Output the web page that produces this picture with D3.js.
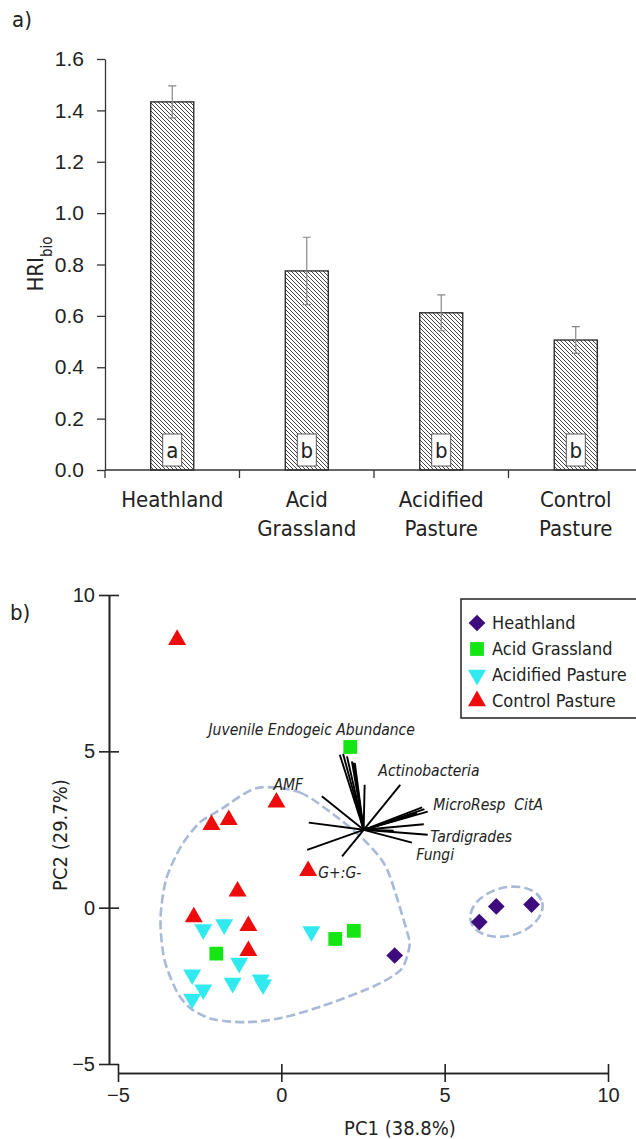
<!DOCTYPE html>
<html>
<head>
<meta charset="utf-8">
<script src="https://cdn.jsdelivr.net/npm/d3@7"></script>
<style>
  body { margin: 0; background: #fff; }
  svg { display: block; font-family: 'DejaVu Sans Condensed', 'DejaVu Sans', sans-serif; font-stretch: condensed; }
  text { fill: #222; }
</style>
</head>
<body>
<div id="chart"></div>
<script>
// ---- panel a) data ----
const categories = ["Heathland", "Acid Grassland", "Acidified Pasture", "Control Pasture"];
const categoryLines = [["Heathland"], ["Acid", "Grassland"], ["Acidified", "Pasture"], ["Control", "Pasture"]];
const hriMean = [1.433, 0.775, 0.612, 0.506];
const hriSE = [0.062, 0.131, 0.070, 0.052];
const groupLetters = ["a", "b", "b", "b"];
const hriTicks = [0, 0.2, 0.4, 0.6, 0.8, 1.0, 1.2, 1.4, 1.6];

// ---- panel b) data (PC1, PC2) ----
const heathland = [[3.47, -1.53], [6.06, -0.46], [6.58, 0.04], [7.66, 0.10]];
const acidGrassland = [[2.11, 5.14], [-1.99, -1.47], [1.65, -1.00], [2.22, -0.74]];
const acidifiedPasture = [[-2.39, -0.70], [-1.75, -0.54], [0.92, -0.76], [-1.29, -1.77], [-2.73, -2.14],
  [-2.39, -2.62], [-2.73, -2.92], [-1.49, -2.41], [-0.63, -2.30], [-0.56, -2.46]];
const controlPasture = [[-3.19, 8.57], [-0.15, 3.37], [-1.61, 2.81], [-2.14, 2.65], [0.82, 1.18],
  [-1.34, 0.52], [-2.68, -0.30], [-1.01, -0.58], [-1.01, -1.38]];
const pcTicks = [-5, 0, 5, 10];

// biplot loading vectors, drawn from a common origin
const loadingOrigin = [2.52, 2.49];
const loadings = [[-0.73, 2.40], [-0.63, 2.43], [-0.51, 2.35], [-0.36, 2.19], [-0.31, 2.15], [-0.27, 2.13],
  [0.03, 1.44], [1.12, 1.44], [-1.28, 1.07], [1.79, 0.72], [1.86, 0.66], [1.96, 0.58], [1.63, 0.53],
  [1.45, 0.45], [1.84, 0.18], [0.92, -0.03], [1.96, -0.16], [1.48, -0.41], [-1.68, 0.23],
  [-1.73, -0.64], [-0.66, -0.85]];
const loadingNames = ["Juvenile Endogeic Abundance", "Actinobacteria", "MicroResp  CitA", "Tardigrades", "Fungi", "AMF", "G+:G-"];
const loadingNamePos = [[-2.23, 5.53], [2.97, 4.22], [4.65, 3.13], [4.56, 2.09], [4.13, 1.53], [-0.24, 3.77], [1.13, 0.96]];

// dashed outlines around the clusters
const hullMain = [[-0.74, 3.83], [0.58, 3.68], [1.81, 2.81], [2.62, 2.07], [3.24, 1.22], [3.83, -0.70],
  [3.92, -1.24], [3.66, -1.98], [2.82, -2.52], [1.22, -3.16], [-0.02, -3.53], [-1.04, -3.66],
  [-2.05, -3.58], [-2.73, -3.26], [-3.18, -2.72], [-3.58, -1.66], [-3.70, -0.38], [-3.53, 0.90],
  [-3.07, 1.96], [-2.51, 2.71], [-1.87, 3.13]];
const hullHeath = { cx: 6.89, cy: -0.13, rx: 1.13, ry: 0.77, angle: -15 };

const groups = [
  { name: "Heathland", pts: heathland, color: "#3d0b7d", shape: "diamond" },
  { name: "Acid Grassland", pts: acidGrassland, color: "#13e613", shape: "square" },
  { name: "Acidified Pasture", pts: acidifiedPasture, color: "#30eaf0", shape: "down" },
  { name: "Control Pasture", pts: controlPasture, color: "#ee0b0b", shape: "up" }
];

const width = 636, height = 1139;

const svg = d3.select("#chart").append("svg")
  .attr("width", width)
  .attr("height", height);

// hatch fill for the bars
svg.append("defs").append("pattern")
  .attr("id", "hatch")
  .attr("patternUnits", "userSpaceOnUse")
  .attr("width", 4).attr("height", 4)
  .call(p => p.append("rect").attr("width", 4).attr("height", 4).attr("fill", "#fff"))
  .append("path")
  .attr("d", "M0,0L4,4M-1,3L1,5M3,-1L5,1")
  .attr("stroke", "#333")
  .attr("stroke-width", 0.9);

// ================= panel a =================
const yA = d3.scaleLinear().domain([0, 1.6]).range([470, 59]);
const xA = d3.scaleBand().domain(categories).range([105, 643]).padding(0);
const barW = xA.bandwidth() * 0.32;

svg.append("text").attr("x", 12).attr("y", 27).style("font-size", "22px").text("a)");

const gA = svg.append("g");

gA.append("g")
  .attr("transform", "translate(105,0)")
  .call(d3.axisLeft(yA).tickValues(hriTicks).tickFormat(d3.format(".1f")).tickSize(8).tickPadding(13).tickSizeOuter(0))
  .call(g => g.selectAll("text").style("font-size", "21px").attr("fill", "#222"))
  .call(g => g.selectAll("line, path").attr("stroke", "#333").attr("stroke-width", 1.3));

const bars = gA.selectAll("g.bar")
  .data(categories)
  .enter().append("g")
  .attr("class", "bar");

bars.append("rect")
  .attr("x", d => xA(d) + (xA.bandwidth() - barW) / 2)
  .attr("y", (d, i) => yA(hriMean[i]))
  .attr("width", barW)
  .attr("height", (d, i) => yA(0) - yA(hriMean[i]))
  .attr("fill", "url(#hatch)")
  .attr("stroke", "#222")
  .attr("stroke-width", 1.3);

// error bars
const cx = d => xA(d) + xA.bandwidth() / 2;
bars.append("path")
  .attr("d", (d, i) => {
    const x = cx(d), t = yA(hriMean[i] + hriSE[i]), b = yA(hriMean[i] - hriSE[i]);
    return `M${x},${b}V${t}M${x - 4},${t}H${x + 4}M${x - 4},${b}H${x + 4}`;
  })
  .attr("stroke", "#888")
  .attr("stroke-width", 1.2)
  .attr("fill", "none");

// significance letters in white boxes
bars.append("rect")
  .attr("x", d => cx(d) - 9.5)
  .attr("y", yA(0) - 36)
  .attr("width", 19)
  .attr("height", 32)
  .attr("fill", "#fff")
  .attr("stroke", "#333")
  .attr("stroke-width", 0.8);

bars.append("text")
  .attr("x", cx)
  .attr("y", yA(0) - 12)
  .attr("text-anchor", "middle")
  .style("font-size", "22px")
  .text((d, i) => groupLetters[i]);

// category axis
gA.append("line")
  .attr("x1", 105).attr("x2", width)
  .attr("y1", yA(0)).attr("y2", yA(0))
  .attr("stroke", "#333").attr("stroke-width", 1.3);

gA.selectAll("line.tick")
  .data(categories)
  .enter().append("line")
  .attr("class", "tick")
  .attr("x1", d => xA(d)).attr("x2", d => xA(d))
  .attr("y1", yA(0)).attr("y2", yA(0) + 8)
  .attr("stroke", "#333").attr("stroke-width", 1.3);

gA.selectAll("text.cat")
  .data(categories)
  .enter().append("text")
  .attr("class", "cat")
  .attr("text-anchor", "middle")
  .attr("y", 507)
  .style("font-size", "22px")
  .each(function (d, i) {
    d3.select(this).selectAll("tspan")
      .data(categoryLines[i])
      .enter().append("tspan")
      .attr("x", cx(d))
      .attr("dy", (l, j) => j ? 29 : 0)
      .text(l => l);
  });

gA.append("text")
  .attr("transform", `translate(43,264) rotate(-90)`)
  .attr("text-anchor", "middle")
  .style("font-size", "22px")
  .text("HRI")
  .append("tspan")
  .attr("baseline-shift", "sub")
  .style("font-size", "15px")
  .text("bio");

// ================= panel b =================
const xB = d3.scaleLinear().domain([-5, 10]).range([118, 608]);
const yB = d3.scaleLinear().domain([-5, 10]).range([1064, 595]);

svg.append("text").attr("x", 10).attr("y", 620).style("font-size", "22px").text("b)");

const gB = svg.append("g");

const axisStyle = g => g.call(g => g.selectAll("line, path").attr("stroke", "#222").attr("stroke-width", 1.6))
  .call(g => g.selectAll("text").style("font-size", "20px").attr("fill", "#222"));

gB.append("g")
  .attr("transform", "translate(109,0)")
  .call(d3.axisLeft(yB).tickValues(pcTicks).tickSize(10).tickPadding(4).tickSizeOuter(0))
  .call(axisStyle);
gB.append("g")
  .attr("transform", "translate(109,0)")
  .call(d3.axisRight(yB).tickValues(pcTicks).tickSize(10).tickFormat("").tickSizeOuter(0))
  .call(axisStyle);

gB.append("g")
  .attr("transform", "translate(0,1073)")
  .call(d3.axisBottom(xB).tickValues(pcTicks).tickSize(9).tickPadding(6).tickSizeOuter(0))
  .call(axisStyle);
gB.append("g")
  .attr("transform", "translate(0,1073)")
  .call(d3.axisTop(xB).tickValues(pcTicks).tickSize(9).tickFormat("").tickSizeOuter(0))
  .call(axisStyle);

gB.append("text")
  .attr("x", 400).attr("y", 1135)
  .attr("text-anchor", "middle")
  .style("font-size", "20px")
  .text("PC1 (38.8%)");

gB.append("text")
  .attr("transform", "translate(67,835) rotate(-90)")
  .attr("text-anchor", "middle")
  .style("font-size", "20px")
  .text("PC2 (29.7%)");

// cluster outlines
const dashStyle = sel => sel.attr("fill", "none")
  .attr("stroke", "#a9b9d8")
  .attr("stroke-width", 2.6)
  .attr("stroke-dasharray", "9,4");

gB.append("path")
  .datum(hullMain)
  .attr("d", d3.line().x(d => xB(d[0])).y(d => yB(d[1])).curve(d3.curveCardinalClosed.tension(0.2)))
  .call(dashStyle);

gB.append("ellipse")
  .attr("cx", xB(hullHeath.cx)).attr("cy", yB(hullHeath.cy))
  .attr("rx", xB(hullHeath.rx) - xB(0)).attr("ry", yB(0) - yB(hullHeath.ry))
  .attr("transform", `rotate(${hullHeath.angle},${xB(hullHeath.cx)},${yB(hullHeath.cy)})`)
  .call(dashStyle);

// loading vectors
const ox = xB(loadingOrigin[0]), oy = yB(loadingOrigin[1]);
gB.append("g")
  .selectAll("line")
  .data(loadings)
  .enter().append("line")
  .attr("x1", ox).attr("y1", oy)
  .attr("x2", d => xB(loadingOrigin[0] + d[0]))
  .attr("y2", d => yB(loadingOrigin[1] + d[1]))
  .attr("stroke", "#000")
  .attr("stroke-width", 1.9);

gB.append("g")
  .selectAll("text")
  .data(loadingNames)
  .enter().append("text")
  .attr("x", (d, i) => xB(loadingNamePos[i][0]))
  .attr("y", (d, i) => yB(loadingNamePos[i][1]))
  .style("font-size", "15.5px")
  .style("font-style", "italic")
  .style("white-space", "pre")
  .text(d => d);

// markers
const symbolPath = {
  diamond: d3.symbol(d3.symbolSquare, 140)(),
  square: d3.symbol(d3.symbolSquare, 190)(),
  up: d3.symbol(d3.symbolTriangle, 140)(),
  down: d3.symbol(d3.symbolTriangle, 140)()
};
const symbolRot = { diamond: 45, square: 0, up: 0, down: 180 };

groups.forEach(grp => {
  gB.append("g")
    .selectAll("path")
    .data(grp.pts)
    .enter().append("path")
    .attr("d", symbolPath[grp.shape])
    .attr("transform", d => `translate(${xB(d[0])},${yB(d[1])}) rotate(${symbolRot[grp.shape]})`)
    .attr("fill", grp.color);
});

// legend
const legend = gB.append("g").attr("transform", "translate(461,599)");
legend.append("rect")
  .attr("width", 200).attr("height", 119)
  .attr("fill", "#fff")
  .attr("stroke", "#222")
  .attr("stroke-width", 1.5);

const items = legend.selectAll("g.item")
  .data(groups)
  .enter().append("g")
  .attr("class", "item")
  .attr("transform", (d, i) => `translate(16,${24 + i * 26})`);

items.append("path")
  .attr("d", d => symbolPath[d.shape])
  .attr("transform", d => `rotate(${symbolRot[d.shape]})`)
  .attr("fill", d => d.color);

items.append("text")
  .attr("x", 15)
  .attr("dy", "0.35em")
  .style("font-size", "18px")
  .text(d => d.name);
</script>
</body>
</html>
